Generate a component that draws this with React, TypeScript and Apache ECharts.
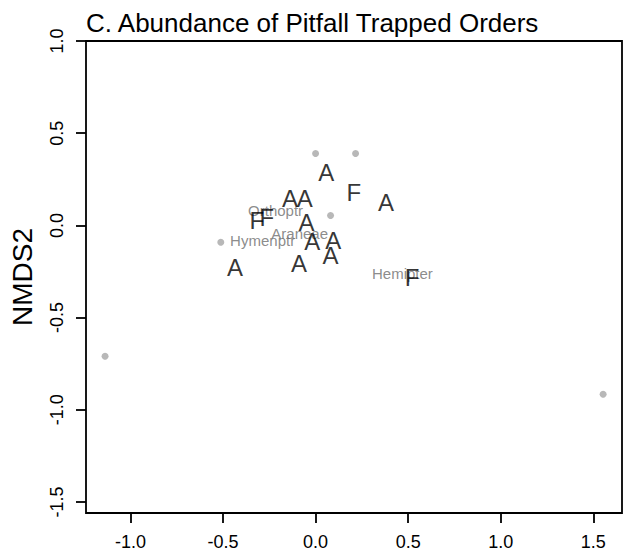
import React, { useEffect, useRef } from "react";
import * as echarts from "echarts";

const titleText = "C. Abundance of Pitfall Trapped Orders";
const yAxisTitle = "NMDS2";

// site scores (letters)
const siteLabels = ["A", "F", "A", "A", "A", "F", "F", "A", "A", "A", "A", "A", "A", "F"];
const siteX = [0.058, 0.207, 0.381, -0.138, -0.058, -0.318, -0.264, -0.049, -0.018, 0.095, 0.081, -0.09, -0.435, 0.521];
const siteY = [0.286, 0.18, 0.126, 0.145, 0.145, 0.027, 0.045, 0.018, -0.09, -0.081, -0.163, -0.208, -0.226, -0.28];

// species shown as text
const speciesNames = ["Orthoptr", "Araneae", "Hymenptr", "Hemipter"];
const speciesX = [-0.216, -0.086, -0.286, 0.469];
const speciesY = [0.081, -0.043, -0.081, -0.26];

// species shown as points only
const pointX = [0.0, 0.216, 0.081, -0.512, -1.137, 1.553];
const pointY = [0.39, 0.39, 0.054, -0.092, -0.71, -0.916];

const xTicks = [-1.0, -0.5, 0.0, 0.5, 1.0, 1.5];
const yTicks = [-1.5, -1.0, -0.5, 0.0, 0.5, 1.0];
const xRange = [-1.24, 1.655];
const yRange = [-1.56, 1.0];

const FONT = "'Liberation Sans', Arial, Helvetica, sans-serif";

export default function App() {
  const ref = useRef<HTMLDivElement>(null);
  useEffect(() => {
    if (!ref.current) return;
    const chart = echarts.init(ref.current, null, { renderer: "svg" });
    const fmt = (v: number) => v.toFixed(1);
    chart.setOption({
      animation: false,
      backgroundColor: "#ffffff",
      textStyle: { fontFamily: FONT },
      title: {
        text: titleText,
        left: 86,
        top: 10,
        padding: 0,
        textStyle: { fontFamily: FONT, fontSize: 26, fontWeight: "normal", color: "#000" },
      },
      grid: {
        left: 85,
        top: 41,
        right: 1,
        bottom: 42,
        show: true,
        borderColor: "#000",
        borderWidth: 1.8,
        backgroundColor: "transparent",
      },
      xAxis: {
        type: "value",
        min: xRange[0],
        max: xRange[1],
        position: "bottom",
        axisLine: { show: false, onZero: false },
        splitLine: { show: false },
        axisTick: {
          show: true,
          inside: false,
          length: 10,
          customValues: xTicks,
          lineStyle: { color: "#000", width: 1.8 },
        },
        axisLabel: {
          show: true,
          customValues: xTicks,
          formatter: fmt,
          margin: 20,
          fontSize: 18,
          color: "#000",
          fontFamily: FONT,
        },
      },
      yAxis: {
        type: "value",
        min: yRange[0],
        max: yRange[1],
        position: "left",
        name: yAxisTitle,
        nameLocation: "middle",
        nameRotate: 90,
        nameGap: 50,
        nameTextStyle: { fontSize: 28, color: "#000", fontFamily: FONT },
        axisLine: { show: false, onZero: false },
        splitLine: { show: false },
        axisTick: {
          show: true,
          inside: false,
          length: 10,
          customValues: yTicks,
          lineStyle: { color: "#000", width: 1.8 },
        },
        axisLabel: {
          show: true,
          customValues: yTicks,
          formatter: fmt,
          rotate: 90,
          margin: 20,
          fontSize: 18,
          color: "#000",
          fontFamily: FONT,
        },
      },
      series: [
        {
          type: "scatter",
          silent: true,
          symbol: "circle",
          symbolSize: 7,
          itemStyle: { color: "#a6a6a6" },
          data: pointX.map((x, i) => [x, pointY[i]]),
          z: 2,
        },
        {
          type: "scatter",
          silent: true,
          symbol: "circle",
          symbolSize: 1,
          itemStyle: { color: "rgba(0,0,0,0)" },
          label: {
            show: true,
            position: "inside",
            formatter: (p: any) => p.value[2],
            fontSize: 15,
            color: "#6e6e6e",
            textBorderWidth: 0,
            fontFamily: FONT,
          },
          data: speciesX.map((x, i) => [x, speciesY[i], speciesNames[i]]),
          z: 3,
        },
        {
          type: "scatter",
          silent: true,
          symbol: "circle",
          symbolSize: 1,
          itemStyle: { color: "rgba(0,0,0,0)" },
          label: {
            show: true,
            position: "inside",
            formatter: (p: any) => p.value[2],
            fontSize: 24,
            color: "#000",
            textBorderWidth: 0,
            fontFamily: FONT,
          },
          data: siteX.map((x, i) => [x, siteY[i], siteLabels[i]]),
          z: 4,
        },
      ],
    });
    return () => chart.dispose();
  }, []);
  return <div ref={ref} style={{ width: 623, height: 555, position: "absolute", left: 0, top: 0 }} />;
}
